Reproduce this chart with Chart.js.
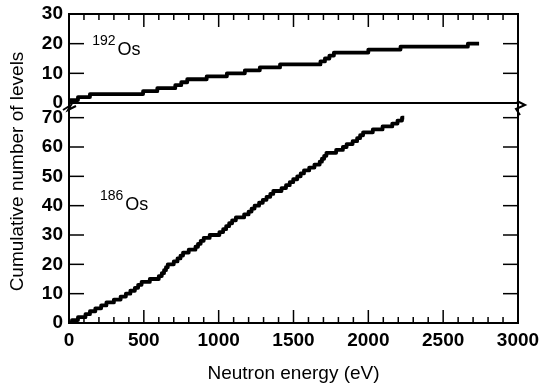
<!DOCTYPE html>
<html>
<head>
    <title>Cumulative number of levels</title>
    <script src="https://cdn.jsdelivr.net/npm/chart.js"></script>
    <style>
        body {
            margin: 0;
            background-color: #fff;
        }
        .wrap {
            width: 540px;
            height: 385px;
            position: relative;
        }
    </style>
</head>
<body>
    <div class="wrap">
        <canvas id="levelsChart"></canvas>
    </div>

    <script>
        // axis ticks
        const xTicks = [0, 500, 1000, 1500, 2000, 2500, 3000];
        const topTicks = [0, 10, 20, 30];
        const bottomTicks = [0, 10, 20, 30, 40, 50, 60, 70];

        // 192Os: energy (eV) where each level is reached, cumulative count
        const os192Energy = [0, 10, 60, 140, 495, 590, 710, 750, 790, 920, 1055, 1175, 1275, 1410, 1680, 1710, 1740, 1770, 2000, 2215, 2665, 2740];
        const os192Count  = [0, 1, 2, 3, 4, 5, 6, 7, 8, 9, 10, 11, 12, 13, 14, 15, 16, 17, 18, 19, 20, 20];

        // 186Os
        const os186Energy = [0, 20, 60, 110, 140, 176, 215, 250, 300, 345, 380, 410, 440, 462, 485, 540, 600, 620, 635, 648, 660,
            700, 725, 745, 762, 800, 845, 862, 880, 900, 940, 1005, 1030, 1050, 1070, 1090, 1115, 1170, 1200, 1220, 1240,
            1270, 1295, 1320, 1345, 1365, 1420, 1450, 1475, 1498, 1525, 1548, 1570, 1605, 1640, 1675, 1690, 1705, 1720,
            1785, 1830, 1855, 1895, 1925, 1945, 1965, 2030, 2095, 2160, 2195, 2225, 2240];
        const os186Count = [0, 1, 2, 3, 4, 5, 6, 7, 8, 9, 10, 11, 12, 13, 14, 15, 16, 17, 18, 19, 20,
            21, 22, 23, 24, 25, 26, 27, 28, 29, 30, 31, 32, 33, 34, 35, 36, 37, 38, 39, 40,
            41, 42, 43, 44, 45, 46, 47, 48, 49, 50, 51, 52, 53, 54, 55, 56, 57, 58,
            59, 60, 61, 62, 63, 64, 65, 66, 67, 68, 69, 70, 70];

        const fontFamily = '"Liberation Sans", Arial, Helvetica, sans-serif';
        Chart.defaults.font.family = fontFamily;
        Chart.defaults.color = '#000';

        function toPoints(xs, ys) {
            return xs.map((x, i) => ({ x: x, y: ys[i] }));
        }

        function line(ctx, x1, y1, x2, y2) {
            ctx.beginPath();
            ctx.moveTo(x1, y1);
            ctx.lineTo(x2, y2);
            ctx.stroke();
        }

        // frame, inward tick marks, break marks, y title and isotope labels
        const framePlugin = {
            id: 'frame',
            afterDraw(chart) {
                const { ctx, chartArea: a, scales } = chart;
                const xs = scales.x, yt = scales.yTop, yb = scales.yBot;
                ctx.save();
                ctx.strokeStyle = '#000';
                ctx.lineWidth = 2;
                ctx.strokeRect(a.left, a.top, a.right - a.left, a.bottom - a.top);
                const yDiv = yt.getPixelForValue(0);
                line(ctx, a.left, yDiv, a.right, yDiv);

                ctx.lineWidth = 1.5;
                for (let v = 100; v < 3000; v += 100) {
                    const px = xs.getPixelForValue(v);
                    const len = v % 500 === 0 ? 13 : 6;
                    line(ctx, px, a.top, px, a.top + len);
                    line(ctx, px, a.bottom, px, a.bottom - len);
                }
                [10, 20].forEach(v => {
                    const py = yt.getPixelForValue(v);
                    line(ctx, a.left, py, a.left + 15, py);
                    line(ctx, a.right, py, a.right - 15, py);
                });
                bottomTicks.slice(1).forEach(v => {
                    const py = yb.getPixelForValue(v);
                    line(ctx, a.left, py, a.left + 15, py);
                    line(ctx, a.right, py, a.right - 15, py);
                });

                // break marks
                ctx.lineWidth = 2;
                ctx.beginPath();
                ctx.moveTo(a.left - 6, yDiv + 7);
                ctx.lineTo(a.left + 2, yDiv + 2);
                ctx.lineTo(a.left - 1, yDiv + 7);
                ctx.lineTo(a.left + 7, yDiv + 3);
                ctx.stroke();
                ctx.beginPath();
                ctx.moveTo(a.right - 1, yDiv - 2);
                ctx.lineTo(a.right + 7, yDiv + 2);
                ctx.lineTo(a.right - 2, yDiv + 6);
                ctx.lineTo(a.right + 2, yDiv + 12);
                ctx.stroke();

                // y title
                ctx.fillStyle = '#000';
                ctx.font = '19px ' + fontFamily;
                ctx.textAlign = 'center';
                ctx.textBaseline = 'middle';
                ctx.translate(18, (a.top + a.bottom) / 2 + 3);
                ctx.rotate(-Math.PI / 2);
                ctx.fillText('Cumulative number of levels', 0, 0);
                ctx.setTransform(1, 0, 0, 1, 0, 0);

                // isotope labels
                ctx.textAlign = 'left';
                ctx.textBaseline = 'alphabetic';
                const iso = (mass, e, yScale, n) => {
                    const px = xs.getPixelForValue(e);
                    const py = yScale.getPixelForValue(n);
                    ctx.font = '14px ' + fontFamily;
                    ctx.fillText(mass, px, py - 10);
                    const w = ctx.measureText(mass).width;
                    ctx.font = '18px ' + fontFamily;
                    ctx.fillText('Os', px + w + 2, py);
                };
                iso('192', 155, yt, 16.2);
                iso('186', 207, yb, 38.6);
                ctx.restore();
            }
        };

        const tickFont = { size: 19, weight: 'bold' };
        const plainLabel = v => String(v);
        const noPad = s => { s.paddingLeft = 0; s.paddingRight = 0; s.paddingTop = 0; s.paddingBottom = 0; };

        new Chart(document.getElementById('levelsChart'), {
            type: 'line',
            data: {
                datasets: [{
                    label: '192Os',
                    data: toPoints(os192Energy, os192Count),
                    xAxisID: 'x',
                    yAxisID: 'yTop',
                    borderColor: '#000',
                    borderWidth: 3.8,
                    borderJoinStyle: 'round',
                    pointRadius: 0,
                    stepped: 'before',
                    fill: false
                }, {
                    label: '186Os',
                    data: toPoints(os186Energy, os186Count),
                    xAxisID: 'x',
                    yAxisID: 'yBot',
                    borderColor: '#000',
                    borderWidth: 3.8,
                    borderJoinStyle: 'round',
                    pointRadius: 0,
                    stepped: 'before',
                    fill: false
                }]
            },
            options: {
                responsive: true,
                maintainAspectRatio: false,
                animation: false,
                layout: { padding: { left: 0, right: 22, top: 14, bottom: 0 } },
                plugins: {
                    legend: { display: false },
                    tooltip: { enabled: false }
                },
                scales: {
                    x: {
                        type: 'linear',
                        min: 0,
                        max: 3000,
                        afterBuildTicks: s => { s.ticks = xTicks.map(v => ({ value: v })); },
                        ticks: { font: tickFont, color: '#000', padding: 6, maxRotation: 0, autoSkip: false, callback: plainLabel },
                        grid: { display: false, drawTicks: false },
                        border: { display: false },
                        title: { display: true, text: 'Neutron energy (eV)', font: { size: 19 }, color: '#000', padding: { top: 2, bottom: 0 } },
                        afterFit: s => { noPad(s); s.height = 62; }
                    },
                    yBot: {
                        type: 'linear',
                        position: 'left',
                        stack: 'y',
                        stackWeight: 220,
                        min: 0,
                        max: 75,
                        afterBuildTicks: s => { s.ticks = bottomTicks.map(v => ({ value: v })); },
                        ticks: { font: tickFont, color: '#000', padding: 6, autoSkip: false, callback: plainLabel },
                        grid: { display: false, drawTicks: false },
                        border: { display: false },
                        afterFit: s => { noPad(s); s.width = 69; }
                    },
                    yTop: {
                        type: 'linear',
                        position: 'left',
                        stack: 'y',
                        stackWeight: 89,
                        min: 0,
                        max: 30,
                        afterBuildTicks: s => { s.ticks = topTicks.map(v => ({ value: v })); },
                        ticks: { font: tickFont, color: '#000', padding: 6, autoSkip: false, callback: plainLabel },
                        grid: { display: false, drawTicks: false },
                        border: { display: false },
                        afterFit: s => { noPad(s); s.width = 69; }
                    }
                }
            },
            plugins: [framePlugin]
        });
    </script>
</body>
</html>
